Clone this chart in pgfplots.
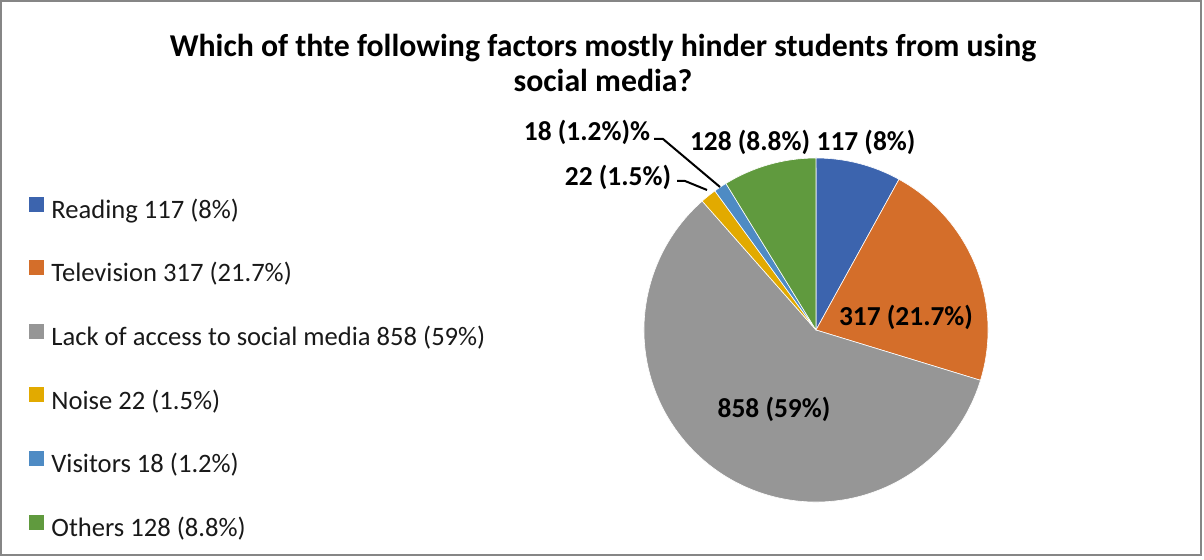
\documentclass[border=0pt]{standalone}
\usepackage{pgfplots}
\pgfplotsset{compat=1.18}
\usepackage{pgfplotstable}
\usepackage{fontspec}
\setmainfont{Carlito}

\definecolor{pieblue}{RGB}{60,100,174}
\definecolor{pieorange}{RGB}{212,110,42}
\definecolor{piegray}{RGB}{150,150,150}
\definecolor{piegold}{RGB}{226,170,0}
\definecolor{pielightblue}{RGB}{78,139,196}
\definecolor{piegreen}{RGB}{96,154,62}
\definecolor{framegray}{RGB}{134,134,134}

% slices clockwise from 12 o'clock
\pgfplotstableread{
label value color
Reading 117 pieblue
Television 317 pieorange
Lack 858 piegray
Noise 22 piegold
Visitors 18 pielightblue
Others 128 piegreen
}\piedata

\pgfplotstablegetrowsof{\piedata}%
\pgfmathtruncatemacro\lastrow{\pgfplotsretval-1}%
\def\pietotal{0}%
\pgfplotsforeachungrouped \i in {0,1,...,\lastrow}{%
  \pgfplotstablegetelem{\i}{value}\of\piedata
  \pgfmathsetmacro\pietotal{\pietotal+\pgfplotsretval}%
}%

\begin{document}
\begin{tikzpicture}
\begin{axis}[
  width=602pt, height=280pt, scale only axis, hide axis, clip=false,
  xmin=0, xmax=1204, ymin=0, ymax=560,
  legend style={at={(0.0241,0.3402)}, anchor=west, draw=none, fill=none,
    inner sep=0pt, row sep=18pt, font=\fontsize{13.3}{15}\selectfont,
    nodes={inner sep=0pt, text height=9pt, text depth=3pt, text=black!90},
    /tikz/every odd column/.append style={column sep=3.5pt}},
  legend cell align=left,
  legend image code/.code={\fill[draw=none] (0pt,0.3pt) rectangle (7.5pt,7.8pt);},
]
\path (axis cs:0,0) rectangle (axis cs:1204,560);
\draw[framegray, line width=1pt] (axis cs:1.5,5) rectangle (axis cs:1201,558.5);

\def\angleacc{90}%
\pgfplotsforeachungrouped \i in {0,1,...,\lastrow}{%
  \pgfplotstablegetelem{\i}{value}\of\piedata \let\sliceval=\pgfplotsretval
  \pgfplotstablegetelem{\i}{color}\of\piedata \let\slicecolor=\pgfplotsretval
  \pgfmathsetmacro\angleend{\angleacc-\sliceval/\pietotal*360}%
  \edef\temp{\noexpand\filldraw[fill=\slicecolor, draw=white, line width=0.3pt]
    (axis cs:816,230) -- ++(\angleacc:86pt)
    arc[start angle=\angleacc, end angle=\angleend, radius=86pt] -- cycle;}%
  \temp
  \let\angleacc=\angleend
}

\addlegendimage{fill=pieblue}\addlegendentry{Reading 117 (8\%)}
\addlegendimage{fill=pieorange}\addlegendentry{Television 317 (21.7\%)}
\addlegendimage{fill=piegray}\addlegendentry{Lack of access to social media 858 (59\%)}
\addlegendimage{fill=piegold}\addlegendentry{Noise 22 (1.5\%)}
\addlegendimage{fill=pielightblue}\addlegendentry{Visitors 18 (1.2\%)}
\addlegendimage{fill=piegreen}\addlegendentry{Others 128 (8.8\%)}

\node[align=center, font=\bfseries\fontsize{15.9}{17.5}\selectfont]
  at (axis cs:603,497) {Which of thte following factors mostly hinder students from using\\social media?};

\begin{scope}[every node/.style={font=\bfseries\fontsize{13.7}{15}\selectfont}]
\node at (axis cs:866,418) {117 (8\%)};
\node at (axis cs:906,243) {317 (21.7\%)};
\node at (axis cs:774,151) {858 (59\%)};
\node at (axis cs:618,383) {22 (1.5\%)};
\node at (axis cs:587,428) {18 (1.2\%)\%};
\node at (axis cs:750,418) {128 (8.8\%)};
\end{scope}
\draw[line width=1pt] (axis cs:654,421) -- (axis cs:663,421) -- (axis cs:720,373);
\draw[line width=1pt] (axis cs:677,379) -- (axis cs:685,379) -- (axis cs:707,370);
\end{axis}
\end{tikzpicture}
\end{document}
